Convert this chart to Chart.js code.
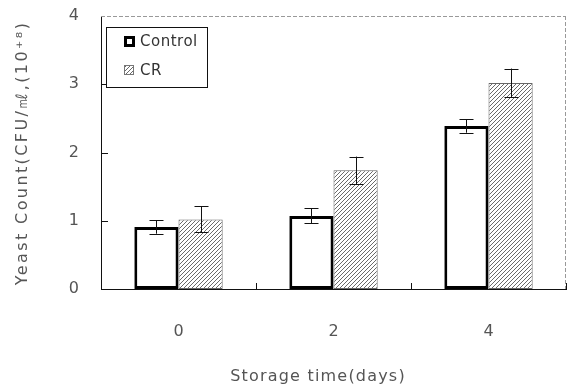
<!DOCTYPE html>
<html>
<head>
<meta charset="utf-8">
<script src="https://cdn.jsdelivr.net/npm/chart.js@4"></script>
<style>
html, body { margin: 0; padding: 0; background: #fff; }
#wrap { width: 567px; height: 390px; }
</style>
</head>
<body>
<div id="wrap"><canvas id="myChart" width="567" height="390"></canvas></div>
<script>
// data
var days = ['0', '2', '4'];
var control = [0.91, 1.07, 2.39];
var control_err = [0.10, 0.11, 0.10];
var cr = [1.02, 1.74, 3.02];
var cr_err = [0.19, 0.20, 0.21];
var y_ticks = [0, 1, 2, 3, 4];
var x_title = 'Storage time(days)';
var y_title = 'Yeast Count(CFU/㎖,(10⁺⁸)';

var FONT = "'DejaVu Sans', sans-serif";

// hatched fill for CR
function make_hatch() {
	var c = document.createElement('canvas');
	c.width = 4; c.height = 4;
	var g = c.getContext('2d');
	g.fillStyle = '#fff';
	g.fillRect(0, 0, 4, 4);
	g.strokeStyle = '#6a6a6a';
	g.lineWidth = 1;
	g.beginPath();
	g.moveTo(0, 4); g.lineTo(4, 0);
	g.moveTo(-1, 1); g.lineTo(1, -1);
	g.moveTo(3, 5); g.lineTo(5, 3);
	g.stroke();
	return g.createPattern(c, 'repeat');
}

var ctx = document.getElementById('myChart').getContext('2d');
var hatch = make_hatch();

/* error bars, inward ticks, frame, axis titles and legend */
var extras = {
	id: 'extras',
	afterDatasetsDraw: function(chart) {
		var c = chart.ctx;
		var ys = chart.scales.y;
		var errs = [control_err, cr_err];
		c.save();
		c.strokeStyle = '#111';
		c.lineWidth = 1;
		chart.data.datasets.forEach(function(ds, di) {
			var meta = chart.getDatasetMeta(di);
			meta.data.forEach(function(bar, i) {
				var x = Math.round(bar.x) + 0.5;
				var hi = ys.getPixelForValue(ds.data[i] + errs[di][i]);
				var lo = ys.getPixelForValue(ds.data[i] - errs[di][i]);
				c.beginPath();
				c.moveTo(x, hi); c.lineTo(x, lo);
				c.moveTo(x - 7, Math.round(hi) + 0.5); c.lineTo(x + 7, Math.round(hi) + 0.5);
				c.moveTo(x - 7, Math.round(lo) + 0.5); c.lineTo(x + 7, Math.round(lo) + 0.5);
				c.stroke();
			});
		});
		c.restore();
	},
	afterDraw: function(chart) {
		var c = chart.ctx;
		var a = chart.chartArea;
		var ys = chart.scales.y;
		var xs = chart.scales.x;
		c.save();
		// top and right frame, faint dashed
		c.strokeStyle = '#999';
		c.lineWidth = 1;
		c.setLineDash([4, 2]);
		c.beginPath();
		c.moveTo(a.left, a.top + 0.5); c.lineTo(a.right, a.top + 0.5);
		c.moveTo(a.right - 0.5, a.top); c.lineTo(a.right - 0.5, a.bottom);
		c.stroke();
		c.setLineDash([]);
		// inward ticks
		c.strokeStyle = '#111';
		c.beginPath();
		[1, 2, 3].forEach(function(v) {
			var y = Math.round(ys.getPixelForValue(v)) + 0.5;
			c.moveTo(a.left, y); c.lineTo(a.left + 7, y);
		});
		var step = xs.getPixelForValue(1) - xs.getPixelForValue(0);
		for (var i = 0; i < days.length; i++) {
			var x = Math.round(xs.getPixelForValue(i) + step / 2) + 0.5;
			c.moveTo(x, a.bottom); c.lineTo(x, a.bottom - 6);
		}
		c.stroke();

		// axis titles, spaced out like the original
		c.fillStyle = '#555';
		c.font = '16px ' + FONT;
		c.textAlign = 'center';
		c.textBaseline = 'middle';
		c.letterSpacing = '1.2px';
		c.fillText(x_title, 318, 377);
		c.save();
		c.translate(23, 153);
		c.rotate(-Math.PI / 2);
		c.letterSpacing = '2.4px';
		c.fillText(y_title, 0, 0);
		c.restore();

		// legend
		var lx = 106, ly = 27, lw = 101, lh = 60;
		c.fillStyle = '#fff';
		c.fillRect(lx, ly, lw, lh);
		c.strokeStyle = '#111';
		c.lineWidth = 1;
		c.strokeRect(lx + 0.5, ly + 0.5, lw, lh);
		var ds = chart.data.datasets;
		// Control swatch
		c.lineWidth = 3;
		c.strokeStyle = '#000';
		c.fillStyle = '#fff';
		c.fillRect(125, 37, 9, 9);
		c.strokeRect(125.5, 37.5, 8, 8);
		// CR swatch
		c.fillStyle = hatch;
		c.fillRect(124, 65, 10, 10);
		c.lineWidth = 1;
		c.strokeStyle = '#777';
		c.strokeRect(124.5, 65.5, 9, 9);
		c.fillStyle = '#333';
		c.font = '15px ' + FONT;
		c.letterSpacing = '0.5px';
		c.textBaseline = 'middle';
		c.textAlign = 'left';
		c.fillText(ds[0].label, 140, 42);
		c.fillText(ds[1].label, 140, 71);
		c.restore();
	}
};

var myChart = new Chart(ctx, {
	type: 'bar',
	data: {
		labels: days,
		datasets: [
			{
				label: 'Control',
				data: control,
				backgroundColor: '#fff',
				borderColor: '#000',
				borderWidth: 3,
				borderSkipped: false
			}, {
				label: 'CR',
				data: cr,
				backgroundColor: hatch,
				borderColor: '#666',
				borderWidth: 1,
				borderSkipped: false
			}
		]
	},
	options: {
		responsive: false,
		animation: false,
		layout: { padding: { top: 16, right: 1, left: 0, bottom: 0 } },
		plugins: {
			legend: { display: false },
			tooltip: { enabled: false }
		},
		datasets: {
			bar: { barPercentage: 1.0, categoryPercentage: 0.57 }
		},
		scales: {
			x: {
				grid: { display: false },
				border: { display: true, color: '#111', width: 1 },
				ticks: { color: '#555', font: { family: FONT, size: 16 }, padding: 25 },
				afterFit: function(s) {
					s.height = 101;
					s.paddingLeft = 0; s.paddingRight = 0;
				}
			},
			y: {
				min: 0,
				max: 4,
				afterBuildTicks: function(s) { s.ticks = y_ticks.map(function(v) { return { value: v }; }); },
				grid: { display: false },
				border: { display: true, color: '#111', width: 1 },
				ticks: { color: '#555', font: { family: FONT, size: 16 }, padding: 14 },
				afterFit: function(s) {
					s.width = 101;
					s.paddingTop = 0; s.paddingBottom = 0;
				}
			}
		}
	},
	plugins: [extras]
});
</script>
</body>
</html>
